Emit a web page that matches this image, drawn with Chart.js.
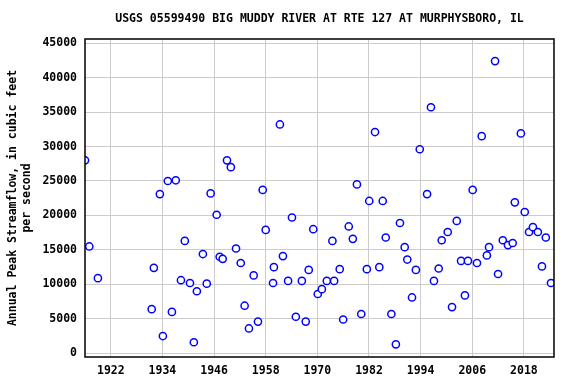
<!DOCTYPE html>
<html>
<head>
<meta charset="utf-8">
<script src="https://cdn.jsdelivr.net/npm/chart.js@4/dist/chart.umd.min.js"></script>
<style>
  html, body { margin: 0; padding: 0; background: #fff; }
  #wrap { width: 576px; height: 384px; }
</style>
</head>
<body>
<div id="wrap"><canvas id="myChart" width="576" height="384"></canvas></div>
<script>
// water year (fractional where the marker sits between years)
const years = [
  1916.0, 1917.0, 1919.0, 1931.5, 1932.0, 1933.4, 1934.1, 1935.25, 1936.2, 1937.1,
  1938.3, 1939.2, 1940.4, 1941.3, 1942.0, 1943.4, 1944.3, 1945.2, 1946.6, 1947.3,
  1948.0, 1949.0, 1949.9, 1951.1, 1952.2, 1953.1, 1954.1, 1955.2, 1956.2, 1957.3,
  1958.0, 1959.7, 1959.9, 1961.3, 1962.0, 1963.2, 1964.1, 1965.0, 1966.4, 1967.3,
  1968.0, 1969.05, 1970.1, 1971.05, 1972.2, 1973.5, 1973.9, 1975.2, 1976.0, 1977.3,
  1978.25, 1979.2, 1980.2, 1981.5, 1982.06, 1983.4, 1984.4, 1985.2, 1985.9, 1987.2,
  1988.25, 1989.2, 1990.3, 1990.9, 1992.0, 1992.9, 1993.8, 1995.5, 1996.4, 1997.1,
  1998.2, 1998.9, 2000.3, 2001.3, 2002.4, 2003.4, 2004.3, 2005.0, 2006.1, 2007.1,
  2008.2, 2009.4, 2009.9, 2011.3, 2012.0, 2013.1, 2014.3, 2015.4, 2015.9, 2017.3,
  2018.2, 2019.2, 2020.1, 2021.25, 2022.2, 2023.1, 2024.3
];

// annual peak streamflow, cubic feet per second
const peaks = [
  28000, 15500, 10900, 6400, 12400, 23100, 2500, 25000, 6000, 25100,
  10600, 16300, 10200, 1600, 9000, 14400, 10100, 23200, 20100, 14000,
  13700, 28000, 27000, 15200, 13100, 6900, 3600, 11300, 4600, 23700,
  17900, 10200, 12500, 33200, 14100, 10500, 19700, 5300, 10500, 4600,
  12100, 18000, 8600, 9300, 10500, 16300, 10500, 12200, 4900, 18400,
  16600, 24500, 5700, 12200, 22100, 32100, 12500, 22100, 16800, 5700,
  1300, 18900, 15400, 13600, 8100, 12100, 29600, 23100, 35700, 10500,
  12300, 16400, 17600, 6700, 19200, 13400, 8400, 13400, 23700, 13100,
  31500, 14200, 15400, 42400, 11500, 16400, 15700, 16000, 21900, 31900,
  20500, 17600, 18300, 17600, 12600, 16800, 10200
];

const xTicks = [1922, 1934, 1946, 1958, 1970, 1982, 1994, 2006, 2018];
const yTicks = [0, 5000, 10000, 15000, 20000, 25000, 30000, 35000, 40000, 45000];

const chartTitle = 'USGS 05599490 BIG MUDDY RIVER AT RTE 127 AT MURPHYSBORO, IL';
const yTitle = ['Annual Peak Streamflow, in cubic feet', 'per second'];

const FONT = "'DejaVu Sans Mono', 'Liberation Mono', monospace";

// titel di atas dan kotak hitam di sekeliling area plot
const framePlugin = {
  id: 'frame',
  afterDraw(chart) {
    const { ctx, chartArea: a } = chart;
    ctx.save();
    ctx.strokeStyle = '#000';
    ctx.lineWidth = 1.5;
    ctx.strokeRect(a.left, a.top, a.right - a.left, a.bottom - a.top);
    ctx.fillStyle = '#000';
    ctx.font = 'bold 11.5px ' + FONT;
    ctx.textAlign = 'center';
    ctx.textBaseline = 'middle';
    ctx.fillText(chartTitle, (a.left + a.right) / 2, 19);
    ctx.restore();
  }
};

const points = years.map((x, i) => ({ x: x, y: peaks[i] }));

new Chart(document.getElementById('myChart').getContext('2d'), {
  type: 'scatter',
  data: {
    datasets: [{
      data: points,
      pointStyle: 'circle',
      pointRadius: 3.6,
      pointBorderWidth: 1.5,
      pointBorderColor: '#0000ff',
      pointBackgroundColor: '#ffffff'
    }]
  },
  options: {
    responsive: false,
    animation: false,
    layout: { padding: { top: 39, right: 22, left: 0, bottom: 0 } },
    plugins: {
      legend: { display: false },
      tooltip: { enabled: false }
    },
    scales: {
      x: {
        type: 'linear',
        min: 1916,
        max: 2025,
        afterBuildTicks(scale) { scale.ticks = xTicks.map(v => ({ value: v })); },
        afterFit(scale) { scale.height = 27; },
        grid: { color: '#cccccc', lineWidth: 1, drawTicks: false },
        border: { display: false },
        ticks: {
          color: '#000',
          padding: 7,
          maxRotation: 0,
          font: { family: FONT, size: 11.5, weight: 'bold' },
          callback: v => String(v)
        }
      },
      y: {
        min: -540,
        max: 45600,
        afterBuildTicks(scale) { scale.ticks = yTicks.map(v => ({ value: v })); },
        afterFit(scale) { scale.width = 85; },
        grid: { color: '#cccccc', lineWidth: 1, drawTicks: false },
        border: { display: false },
        title: {
          display: true,
          text: yTitle,
          color: '#000',
          padding: { top: 6, bottom: 0 },
          font: { family: FONT, size: 11.5, weight: 'bold', lineHeight: 1.2 }
        },
        ticks: {
          color: '#000',
          padding: 8,
          font: { family: FONT, size: 11.5, weight: 'bold' },
          callback: v => String(v)
        }
      }
    }
  },
  plugins: [framePlugin]
});
</script>
</body>
</html>
